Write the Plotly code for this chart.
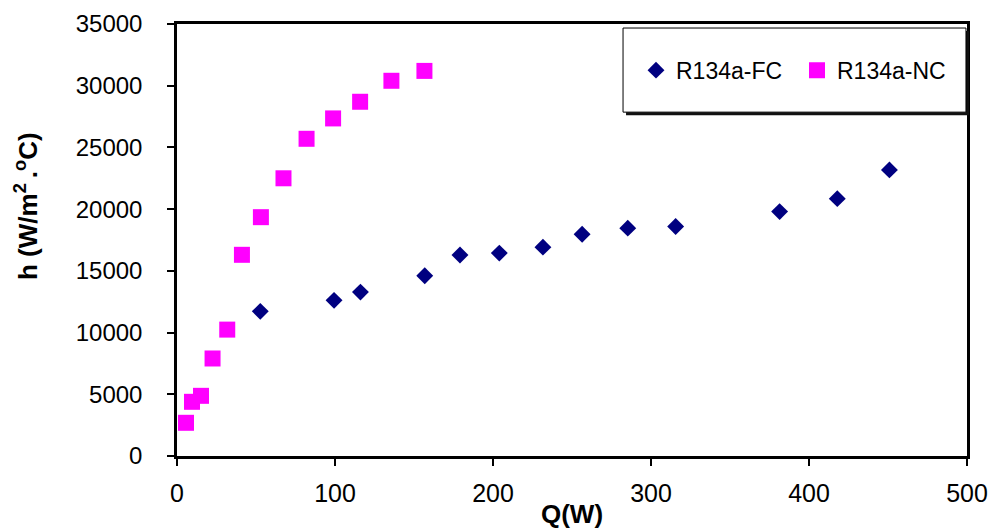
import plotly.graph_objects as go

fc_q = [52.7, 99.4, 116.1, 156.8, 179.1, 204.0, 231.6, 256.4, 285.3, 315.6, 381.4, 417.9, 450.9]
fc_h = [11720, 12610, 13280, 14600, 16290, 16440, 16920, 17970, 18460, 18590, 19800, 20850, 23180]

nc_q = [5.7, 9.5, 15.2, 22.5, 31.8, 41.1, 53.1, 67.4, 82.0, 98.8, 115.9, 135.7, 156.6]
nc_h = [2690, 4390, 4875, 7900, 10240, 16300, 19350, 22500, 25700, 27350, 28700, 30400, 31200]

x_ticks = [0, 100, 200, 300, 400, 500]
y_ticks = [0, 5000, 10000, 15000, 20000, 25000, 30000, 35000]

x_title = "<b>Q(W)</b>"
y_title = "<b>h (W/m<sup>2 </sup>.<sup>o</sup>C)</b>"

FONT = "Liberation Sans, Arial, sans-serif"

fig = go.Figure()
fig.add_trace(go.Scatter(x=fc_q, y=fc_h, mode="markers", name="R134a-FC",
                         marker=dict(symbol="diamond", size=13, color="#000080")))
fig.add_trace(go.Scatter(x=nc_q, y=nc_h, mode="markers", name="R134a-NC",
                         marker=dict(symbol="square", size=16, color="#FF00FF")))

# legend frame with shadow
fig.add_shape(type="rect", xref="paper", yref="paper", x0=0.5684, x1=1.0025, y0=0.789, y1=0.984,
              fillcolor="#111111", line=dict(width=0), layer="above")
fig.add_shape(type="rect", xref="paper", yref="paper", x0=0.5646, x1=0.9987, y0=0.796, y1=0.9907,
              fillcolor="white", line=dict(color="black", width=1), layer="above")

# y-axis title (placed like the reference, above centre)
fig.add_annotation(text=y_title, xref="paper", yref="paper", x=(26 - 177) / 790, y=(456 - 206) / 432,
                   xanchor="center", yanchor="middle", textangle=-90, showarrow=False,
                   font=dict(size=26, family=FONT, color="black"))

fig.update_layout(
    width=992, height=529,
    margin=dict(l=177, r=25, t=24, b=73, autoexpand=False),
    paper_bgcolor="white", plot_bgcolor="white",
    font=dict(family=FONT, color="black"),
    showlegend=True,
    legend=dict(orientation="h", x=(636 - 177) / 790, xanchor="left", y=0.893, yanchor="middle",
                bgcolor="rgba(0,0,0,0)", borderwidth=0,
                font=dict(size=23, family=FONT), entrywidth=116, itemwidth=30),
    xaxis=dict(range=[0, 500], tickvals=x_ticks, ticktext=[str(v) for v in x_ticks],
               automargin=False,
               showgrid=False, zeroline=False, showline=True, linecolor="black", linewidth=2.5,
               mirror=True, ticks="outside", ticklen=7, tickwidth=2, tickcolor="black",
               tickfont=dict(size=25, family=FONT), ticklabelstandoff=6,
               title=dict(text=x_title, font=dict(size=26, family=FONT), standoff=0)),
    yaxis=dict(range=[0, 35000], tickvals=y_ticks, ticktext=[str(v) for v in y_ticks],
               automargin=False,
               showgrid=False, zeroline=False, showline=True, linecolor="black", linewidth=2.5,
               mirror=True, ticks="outside", ticklen=7, tickwidth=2, tickcolor="black",
               tickfont=dict(size=24, family=FONT), ticklabelstandoff=20),
)

fig.write_html("out.html", config={"displayModeBar": False},
               post_script="document.body.style.margin='0';document.body.style.overflow='hidden';")
